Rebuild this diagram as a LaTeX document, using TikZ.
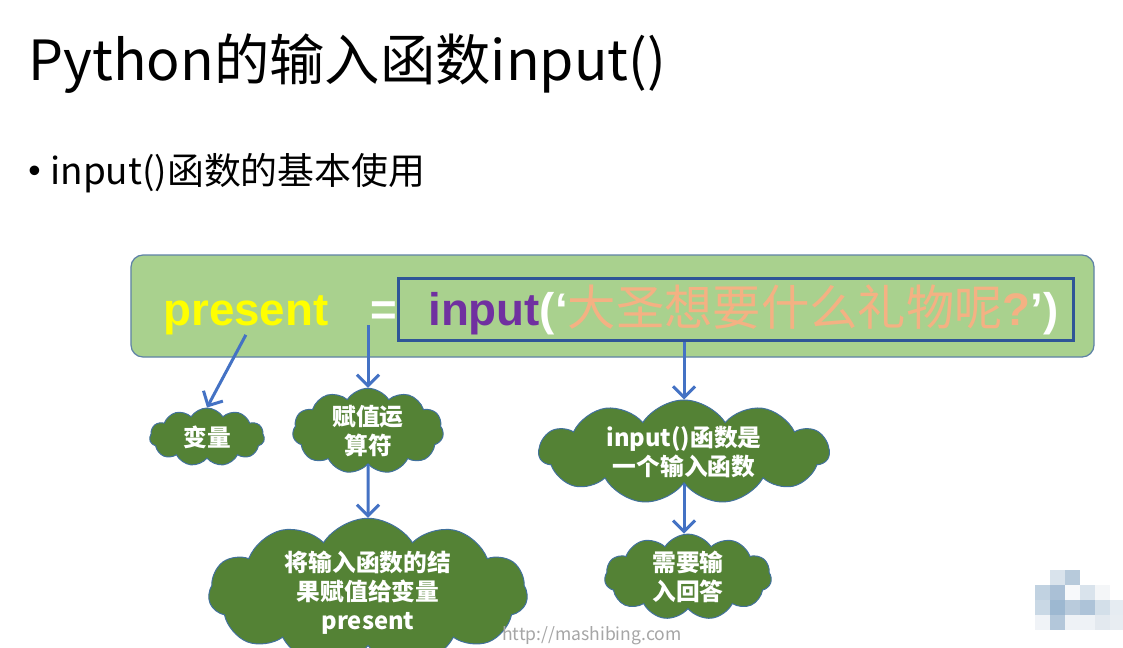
\documentclass[tikz,border=0pt]{standalone}
\usepackage{fontspec}
\setmainfont{Noto Sans CJK SC}
\newfontfamily\codefont{Liberation Sans}
\newfontfamily\cjk{Noto Sans CJK SC}
\usetikzlibrary{arrows.meta,positioning,shapes.symbols}

\definecolor{panelgreen}{HTML}{A9D18E}
\definecolor{paneledge}{HTML}{5E82A6}
\definecolor{callblue}{HTML}{2F5597}
\definecolor{arrowblue}{HTML}{4472C4}
\definecolor{cloudgreen}{HTML}{548235}
\definecolor{cloudedge}{HTML}{41719C}
\definecolor{kwpurple}{HTML}{7030A0}
\definecolor{strsalmon}{HTML}{F4B183}
\definecolor{varyellow}{HTML}{FFFF00}

\begin{document}
\begin{tikzpicture}[
    x=0.2mm, y=-0.2mm,
    >={Straight Barb[length=2.2mm,width=4.4mm]},
    panel/.style={
        rectangle,
        rounded corners=2.4mm,
        draw=paneledge,
        line width=0.25mm,
        fill=panelgreen,
        minimum width=192.6mm,
        minimum height=20.4mm
    },
    callbox/.style={
        rectangle,
        draw=callblue,
        line width=0.6mm,
        minimum width=135mm,
        minimum height=12.4mm
    },
    code/.style={
        inner sep=0pt,
        font=\codefont\bfseries\fontsize{26}{30}\selectfont
    },
    bubble/.style={
        cloud,
        cloud puffs=11,
        cloud puff arc=115,
        cloud ignores aspect,
        draw=cloudedge,
        line width=0.2mm,
        fill=cloudgreen,
        text=white,
        inner sep=0pt,
        align=center,
        font=\bfseries\fontsize{13.5}{16.5}\selectfont
    },
    link/.style={
        ->,
        draw=arrowblue,
        line width=0.6mm
    }
]

% page
\useasboundingbox[fill=white] (0,0) rectangle (1123,647);

% title and bullet
\node[anchor=base west, inner sep=0pt, font=\fontsize{31.5}{36}\selectfont] (title) at (28,80) {Python的输入函数input()};
\node[anchor=base west, inner sep=0pt, font=\codefont\fontsize{20}{24}\selectfont] (dot) at (28,182) {•};
\node[anchor=base west, inner sep=0pt, font=\fontsize{21}{24}\selectfont] (point) at (50,184) {input()函数的基本使用};

% code line
\node[panel] (panel) at (612.5,306) {};
\node[callbox] (call) at (735.5,309) {};
\node[code, anchor=base west, text=varyellow] (present) at (163,325) {present};
\node[code, anchor=base west, text=white] (eq) at (370,325) {=};
\node[code, anchor=base west] (input) at (428,325)
    {\textcolor{kwpurple}{input}\textcolor{white}{(‘}\textcolor{strsalmon}{{\cjk\mdseries\fontsize{27.5}{30}\selectfont 大圣想要什么礼物呢}?}\textcolor{white}{’)}};

% clouds
\node[bubble, minimum width=23mm, minimum height=11.6mm] (var) at (207,437) {变量};
\node[bubble, minimum width=30.2mm, minimum height=15mm] (assign) at (368,431) {赋值运\\算符};
\node[bubble, minimum width=63.8mm, minimum height=19mm] (result) at (368,593) {将输入函数的结\\果赋值给变量\\present};
\node[bubble, minimum width=58mm, minimum height=19mm] (func) at (684,452) {input()函数是\\一个输入函数};
\node[bubble, minimum width=33.4mm, minimum height=13.6mm] (answer) at (688,577) {需要输\\入回答};

% arrows
\draw[link] (present.south) -- (var.north);
\draw[link] (eq.south -| assign.north) -- (assign.north);
\draw[link] (assign.south) -- (result.north);
\draw[link] (call.south -| func.north) -- (func.north);
\draw[link] (func.south) -- (answer.north -| func.south);

% footer
\node[anchor=south west, inner sep=1pt, text=black!35, font=\fontsize{10}{12}\selectfont] (url) at (500,647) {http://mashibing.com};

% blurred corner mark
\foreach \col/\row/\shade in {1/0/D9E3EC,2/0/B7CADB,
    0/1/C1D2E1,1/1/AAC0D6,2/1/F7F9FB,3/1/D9E3EC,4/1/F4F6F8,
    0/2/C9D8E5,1/2/9DB8D1,2/2/B9CBDC,3/2/ADC3D8,4/2/D3DFE9,5/2/E6ECF2,
    0/3/F0F3F7,1/3/B3C7DA,2/3/EEF2F6,3/3/EEF2F6,4/3/E3E9EF,5/3/E8EDF2}
{
    \definecolor{tile}{HTML}{\shade}
    \fill[tile] (1035+15*\col,570+15*\row) rectangle ++(15,15);
}

\end{tikzpicture}
\end{document}
